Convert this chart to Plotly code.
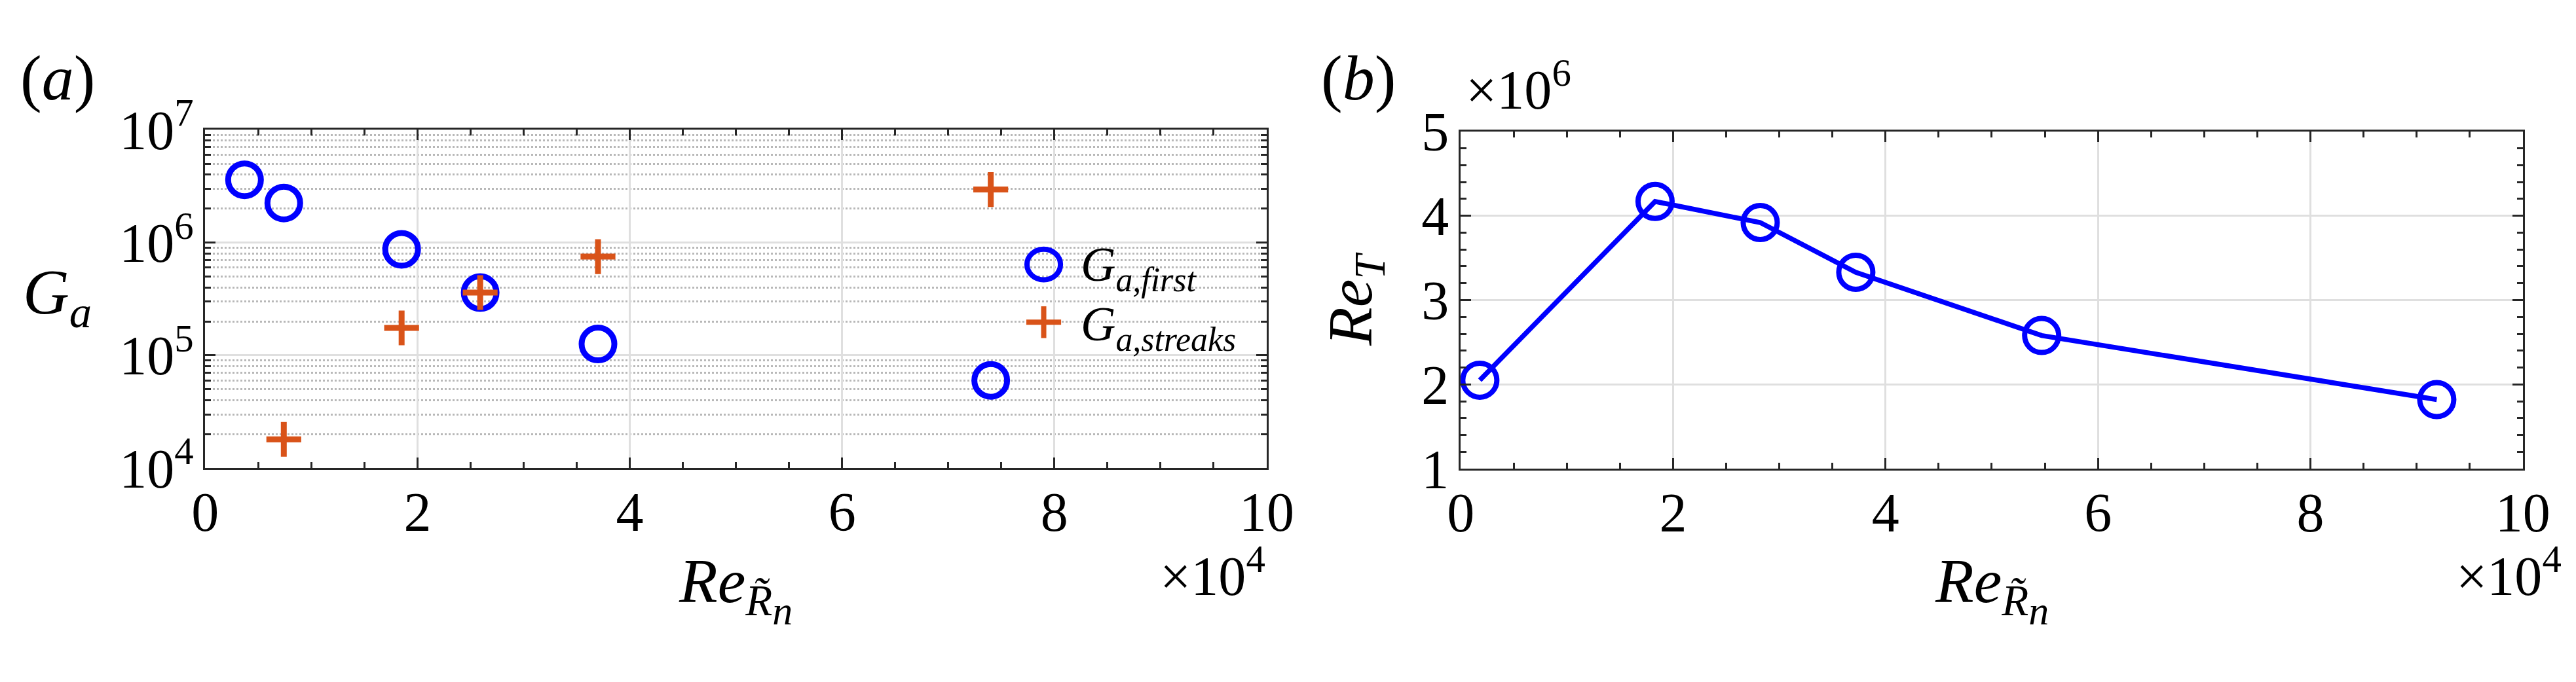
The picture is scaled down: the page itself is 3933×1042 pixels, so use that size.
import plotly.graph_objects as go

# --------------------------
# DATA
# --------------------------
# panel (a): Re in units of 1e4
re_first = [0.37, 0.74, 1.85, 2.59, 3.70, 7.40]
ga_first = [3.6e6, 2.24e6, 8.7e5, 3.6e5, 1.26e5, 6.0e4]
re_streaks = [0.74, 1.85, 2.59, 3.70, 7.40]
ga_streaks = [1.8e4, 1.75e5, 3.6e5, 7.5e5, 2.95e6]

# panel (b): Re in units of 1e4, Re_T in units of 1e6
re_b = [0.18, 1.83, 2.82, 3.72, 5.47, 9.19]
re_t = [2.05, 4.17, 3.92, 3.33, 2.58, 1.82]

y_log_ticks = [1e4, 1e5, 1e6, 1e7]
y_log_text = ["10<sup>4</sup>", "10<sup>5</sup>", "10<sup>6</sup>", "10<sup>7</sup>"]

# --------------------------
# STYLE
# --------------------------
W, H = 3933, 1042
FONT = "Liberation Serif"
BLUE = "#0000FF"
ORANGE = "#D95319"
AXC = "#262626"
GRID = "#dfdfdf"
TICK_SIZE = 84


def px(x):
    return x / W


def py(y):
    return 1 - y / H


fig = go.Figure()

# (a) G_a vs Re
fig.add_trace(go.Scatter(x=re_first, y=ga_first, mode="markers", name="G_a,first",
                         marker=dict(symbol="circle-open", size=50, color=BLUE,
                                     line=dict(width=9, color=BLUE)),
                         xaxis="x", yaxis="y", showlegend=False))
fig.add_trace(go.Scatter(x=re_streaks, y=ga_streaks, mode="markers", name="G_a,streaks",
                         marker=dict(symbol="cross-thin-open", size=38, color=ORANGE,
                                     line=dict(width=9, color=ORANGE)),
                         xaxis="x", yaxis="y", showlegend=False))

# (b) Re_T vs Re
fig.add_trace(go.Scatter(x=re_b, y=re_t, mode="lines+markers", name="Re_T",
                         line=dict(color=BLUE, width=7.5),
                         marker=dict(symbol="circle-open", size=52, color=BLUE,
                                     line=dict(width=8, color=BLUE)),
                         xaxis="x2", yaxis="y2", showlegend=False))

tick_font = dict(family=FONT, size=TICK_SIZE, color="black")
common = dict(showline=True, linecolor=AXC, linewidth=3, mirror="ticks",
              ticks="inside", ticklen=16, tickwidth=3, tickcolor=AXC,
              showgrid=True, gridcolor=GRID, gridwidth=3, zeroline=False,
              tickfont=tick_font)

xcommon = dict(common, range=[0, 10], tickmode="linear", tick0=0, dtick=2,
               ticklabelstandoff=-8,
               minor=dict(dtick=0.5, ticks="inside", ticklen=9, tickwidth=3,
                          tickcolor=AXC, showgrid=False))

minor_log = [m * 10 ** e for e in range(4, 7) for m in range(2, 10)]

fig.update_layout(
    width=W, height=H, autosize=False,
    margin=dict(l=0, r=0, t=0, b=0),
    paper_bgcolor="white", plot_bgcolor="white",
    xaxis=dict(xcommon, domain=[px(289), px(1936)], anchor="y"),
    yaxis=dict(common, type="log", range=[4, 7], domain=[py(722), py(147)], anchor="x",
               tickmode="array", tickvals=y_log_ticks, ticktext=y_log_text,
               ticklabelstandoff=-2,
               minor=dict(tickmode="array", tickvals=minor_log, ticks="inside", ticklen=9,
                          tickwidth=3, tickcolor=AXC, showgrid=True, gridcolor="#b8b8b8",
                          gridwidth=2.5, griddash="dot")),
    xaxis2=dict(xcommon, domain=[px(2237), px(3885)], anchor="y2"),
    yaxis2=dict(common, range=[1, 5], domain=[py(723), py(150)], anchor="x2",
                tickmode="linear", tick0=1, dtick=1, ticklabelstandoff=-2,
                minor=dict(dtick=0.2, ticks="inside", ticklen=9, tickwidth=3,
                           tickcolor=AXC, showgrid=False)),
)

ann = []


def label(text, x, y, size, xanchor="left", yanchor="top", angle=0):
    ann.append(dict(text=text, x=px(x), y=py(y), xref="paper", yref="paper",
                    xanchor=xanchor, yanchor=yanchor, showarrow=False, textangle=angle,
                    font=dict(family=FONT, size=size, color="black")))


# panel letters
label("(<i>a</i>)", 0, -3, 98)
label("(<i>b</i>)", 2018, -3, 98)

# axis titles
label("<i>G</i><sub><i>a</i></sub>", 4, 360, 98)
xt = ("<i>Re</i><sub><i>R\u0303</i><sub><span style='font-size:62px'><i>n</i></span>"
      "</sub></sub>")
label(xt, 1112, 852, 96, xanchor="center")
label(xt, 3061, 852, 96, xanchor="center")
label("<i>Re</i><sub><i>T</i></sub>", 2072, 435, 96, xanchor="center", yanchor="middle", angle=-90)

# exponent labels
label("\u00d710<sup>4</sup>", 1936, 960, TICK_SIZE, xanchor="right", yanchor="bottom")
label("\u00d710<sup>4</sup>", 3780, 960, TICK_SIZE, yanchor="bottom")
label("\u00d710<sup>6</sup>", 2243, 134, TICK_SIZE, yanchor="bottom")

# legend for panel (a): keys drawn as shapes, labels as text
leg_x, leg_y1, leg_y2 = 1590, 376, 474
shapes = [
    dict(type="circle", xref="paper", yref="paper",
         x0=px(leg_x - 26), x1=px(leg_x + 26), y0=py(leg_y1 + 26), y1=py(leg_y1 - 26),
         line=dict(color=BLUE, width=8)),
    dict(type="line", xref="paper", yref="paper",
         x0=px(leg_x - 27), x1=px(leg_x + 27), y0=py(leg_y2), y1=py(leg_y2),
         line=dict(color=ORANGE, width=8)),
    dict(type="line", xref="paper", yref="paper",
         x0=px(leg_x), x1=px(leg_x), y0=py(leg_y2 - 27), y1=py(leg_y2 + 27),
         line=dict(color=ORANGE, width=8)),
]
label("<i>G</i><sub><i>a,first</i></sub>", 1645, 328, 74)
label("<i>G</i><sub><i>a,streaks</i></sub>", 1645, 429, 74)

fig.update_layout(annotations=ann, shapes=shapes)

fig.write_html("out.html")
